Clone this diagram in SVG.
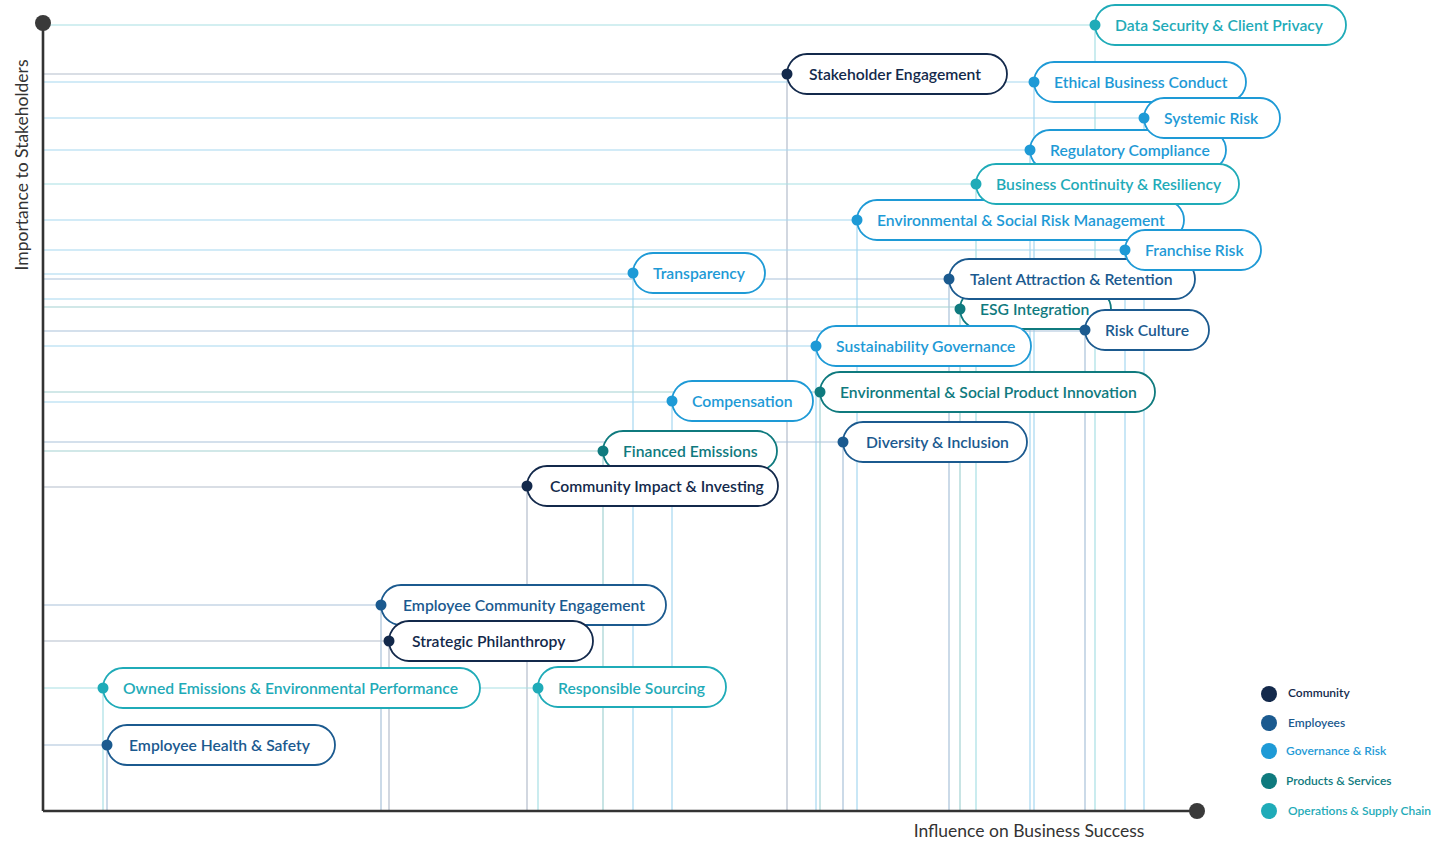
<svg xmlns="http://www.w3.org/2000/svg" width="1449" height="843" viewBox="0 0 1449 843">
<style>
text{font-family:Lato,"Open Sans","Liberation Sans",sans-serif}
.lbl{font-size:15.7px;font-weight:600}
.ax{font-size:17.5px;fill:#333}
.leg{font-size:12px;font-weight:600}
.pill{fill:#fff;stroke-width:1.8}
.h,.v{stroke-width:1.2;fill:none}
.com .pill{stroke:#13294B}.com text,.com circle{fill:#13294B}
.emp .pill{stroke:#1B5A8F}.emp text,.emp circle{fill:#1B5A8F}
.gov .pill{stroke:#1E9AD6}.gov text,.gov circle{fill:#1E9AD6}
.prod .pill{stroke:#0F7A7E}.prod text,.prod circle{fill:#0F7A7E}
.ops .pill{stroke:#1FABB8}.ops text,.ops circle{fill:#1FABB8}
.lcom{stroke:#b4bdcc}.lemp{stroke:#a9c2d9}.lgov{stroke:#a6d8f0}.lprod{stroke:#a3d2d2}.lops{stroke:#a8dfe4}
</style>
<rect width="1449" height="843" fill="#fff"/>
<g id="connectors">
<path class="h lops" d="M43 25H1095M1095 25V811"/>
<path class="h lcom" d="M43 74H787M787 74V811"/>
<path class="h lgov" d="M43 82H1034M1034 82V811"/>
<path class="h lgov" d="M43 118H1144M1144 118V811"/>
<path class="h lgov" d="M43 150H1030M1030 150V811"/>
<path class="h lops" d="M43 184H976M976 184V811"/>
<path class="h lgov" d="M43 220H857M857 220V811"/>
<path class="h lgov" d="M43 250H1125M1125 250V811"/>
<path class="h lgov" d="M43 274H633M633 274V811"/>
<path class="h lemp" d="M43 279H949M949 279V811"/>
<path class="h lgov" d="M43 299H949"/>
<path class="h lprod" d="M43 307H960M960 309V811"/>
<path class="h lemp" d="M43 331H1085M1085 331V811"/>
<path class="h lgov" d="M43 346H816M816 346V811"/>
<path class="h lprod" d="M43 392H820M820 392V811"/>
<path class="h lgov" d="M43 402H672M672 402V811"/>
<path class="h lemp" d="M43 442H843M843 442V811"/>
<path class="h lprod" d="M43 451H603M603 451V811"/>
<path class="h lcom" d="M43 487H527M527 487V811"/>
<path class="h lemp" d="M43 605H381M381 605V811"/>
<path class="h lcom" d="M43 641H389M389 641V811"/>
<path class="h lops" d="M43 688H538M538 688V811"/>
<path class="h lops" d="M103 688V811"/>
<path class="h lemp" d="M43 745H107M107 745V811"/>
</g>
<g id="axes">
<line x1="43" y1="23" x2="43" y2="811" stroke="#333" stroke-width="2.6"/>
<line x1="43" y1="811" x2="1197" y2="811" stroke="#333" stroke-width="2.6"/>
<circle cx="43" cy="23" r="8" fill="#3a3a3a"/>
<circle cx="1197" cy="811" r="8" fill="#3a3a3a"/>
<text class="ax" transform="translate(28,165) rotate(-90)" text-anchor="middle">Importance to Stakeholders</text>
<text class="ax" x="1029" y="837" text-anchor="middle">Influence on Business Success</text>
</g>
<g id="n-data-security" class="ops"><rect class="pill" x="1095" y="5" width="251" height="40" rx="20"/><circle cx="1095" cy="25" r="5.5"/><text class="lbl" x="1115" y="30.5">Data Security &amp; Client Privacy</text></g>
<g id="n-stakeholder-engagement" class="com"><rect class="pill" x="787" y="54" width="220" height="40" rx="20"/><circle cx="787" cy="74" r="5.5"/><text class="lbl" x="809" y="79.5">Stakeholder Engagement</text></g>
<g id="n-ethical-business-conduct" class="gov"><rect class="pill" x="1034" y="62" width="212" height="40" rx="20"/><circle cx="1034" cy="82" r="5.5"/><text class="lbl" x="1054" y="87.5">Ethical Business Conduct</text></g>
<g id="n-regulatory-compliance" class="gov"><rect class="pill" x="1030" y="130" width="196" height="40" rx="20"/><circle cx="1030" cy="150" r="5.5"/><text class="lbl" x="1050" y="155.5">Regulatory Compliance</text></g>
<g id="n-systemic-risk" class="gov"><rect class="pill" x="1144" y="98" width="136" height="40" rx="20"/><circle cx="1144" cy="118" r="5.5"/><text class="lbl" x="1164" y="123.5">Systemic Risk</text></g>
<g id="n-esrm" class="gov"><rect class="pill" x="857" y="200" width="327" height="40" rx="20"/><circle cx="857" cy="220" r="5.5"/><text class="lbl" x="877" y="225.5">Environmental &amp; Social Risk Management</text></g>
<g id="n-business-continuity" class="ops"><rect class="pill" x="976" y="164" width="263" height="40" rx="20"/><circle cx="976" cy="184" r="5.5"/><text class="lbl" x="996" y="189.5">Business Continuity &amp; Resiliency</text></g>
<g id="n-esg-integration" class="prod"><rect class="pill" x="960" y="289" width="151" height="40" rx="20"/><circle cx="960" cy="309" r="5.5"/><text class="lbl" x="980" y="314.5">ESG Integration</text></g>
<g id="n-talent" class="emp"><rect class="pill" x="949" y="259" width="246" height="40" rx="20"/><circle cx="949" cy="279" r="5.5"/><text class="lbl" x="970" y="284.5">Talent Attraction &amp; Retention</text></g>
<g id="n-franchise-risk" class="gov"><rect class="pill" x="1125" y="230" width="136" height="40" rx="20"/><circle cx="1125" cy="250" r="5.5"/><text class="lbl" x="1145" y="255.5">Franchise Risk</text></g>
<g id="n-transparency" class="gov"><rect class="pill" x="633" y="253" width="132" height="40" rx="20"/><circle cx="633" cy="273" r="5.5"/><text class="lbl" x="653" y="278.5">Transparency</text></g>
<g id="n-risk-culture" class="emp"><rect class="pill" x="1085" y="310" width="124" height="40" rx="20"/><circle cx="1085" cy="330" r="5.5"/><text class="lbl" x="1105" y="335.5">Risk Culture</text></g>
<g id="n-sustainability-governance" class="gov"><rect class="pill" x="816" y="326" width="215" height="40" rx="20"/><circle cx="816" cy="346" r="5.5"/><text class="lbl" x="836" y="351.5">Sustainability Governance</text></g>
<g id="n-espi" class="prod"><rect class="pill" x="820" y="372" width="335" height="40" rx="20"/><circle cx="820" cy="392" r="5.5"/><text class="lbl" x="840" y="397.5">Environmental &amp; Social Product Innovation</text></g>
<g id="n-compensation" class="gov"><rect class="pill" x="672" y="381" width="141" height="40" rx="20"/><circle cx="672" cy="401" r="5.5"/><text class="lbl" x="692" y="406.5">Compensation</text></g>
<g id="n-diversity" class="emp"><rect class="pill" x="843" y="422" width="184" height="40" rx="20"/><circle cx="843" cy="442" r="5.5"/><text class="lbl" x="866" y="447.5">Diversity &amp; Inclusion</text></g>
<g id="n-financed-emissions" class="prod"><rect class="pill" x="603" y="431" width="174" height="40" rx="20"/><circle cx="603" cy="451" r="5.5"/><text class="lbl" x="623" y="456.5">Financed Emissions</text></g>
<g id="n-community-impact" class="com"><rect class="pill" x="527" y="466" width="251" height="40" rx="20"/><circle cx="527" cy="486" r="5.5"/><text class="lbl" x="550" y="491.5">Community Impact &amp; Investing</text></g>
<g id="n-employee-community" class="emp"><rect class="pill" x="381" y="585" width="285" height="40" rx="20"/><circle cx="381" cy="605" r="5.5"/><text class="lbl" x="403" y="610.5">Employee Community Engagement</text></g>
<g id="n-strategic-philanthropy" class="com"><rect class="pill" x="389" y="621" width="204" height="40" rx="20"/><circle cx="389" cy="641" r="5.5"/><text class="lbl" x="412" y="646.5">Strategic Philanthropy</text></g>
<g id="n-owned-emissions" class="ops"><rect class="pill" x="103" y="668" width="377" height="40" rx="20"/><circle cx="103" cy="688" r="5.5"/><text class="lbl" x="123" y="693.5">Owned Emissions &amp; Environmental Performance</text></g>
<g id="n-responsible-sourcing" class="ops"><rect class="pill" x="538" y="667" width="188" height="40" rx="20"/><circle cx="538" cy="688" r="5.5"/><text class="lbl" x="558" y="693.5">Responsible Sourcing</text></g>
<g id="n-employee-health" class="emp"><rect class="pill" x="107" y="725" width="228" height="40" rx="20"/><circle cx="107" cy="745" r="5.5"/><text class="lbl" x="129" y="750.5">Employee Health &amp; Safety</text></g>
<g id="legend">
<g class="com"><circle cx="1269" cy="694" r="8"/><text class="leg" x="1288" y="697">Community</text></g>
<g class="emp"><circle cx="1269" cy="723" r="8"/><text class="leg" x="1288" y="727">Employees</text></g>
<g class="gov"><circle cx="1269" cy="751" r="8"/><text class="leg" x="1286" y="755">Governance &amp; Risk</text></g>
<g class="prod"><circle cx="1269" cy="781" r="8"/><text class="leg" x="1286" y="785">Products &amp; Services</text></g>
<g class="ops"><circle cx="1269" cy="811" r="8"/><text class="leg" x="1288" y="815">Operations &amp; Supply Chain</text></g>
</g>
</svg>
